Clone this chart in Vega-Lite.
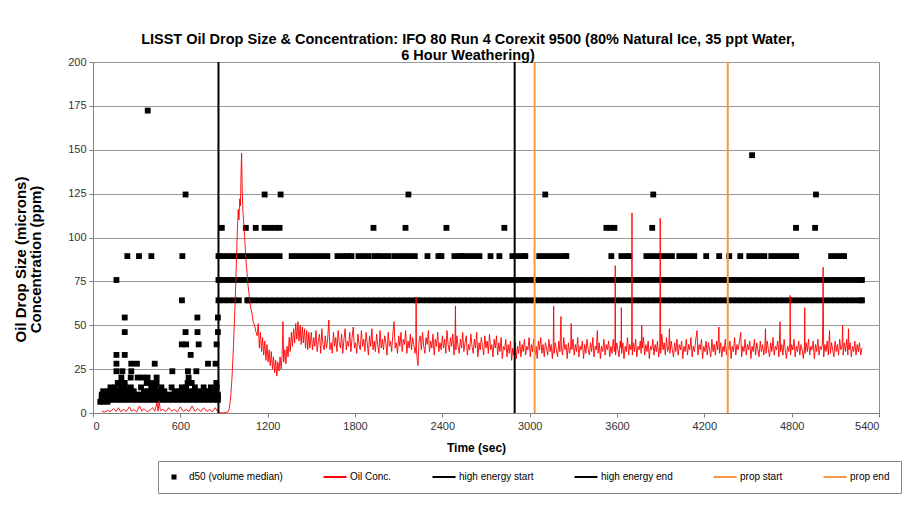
{
  "$schema": "https://vega.github.io/schema/vega-lite/v6.json",
  "width": 786,
  "height": 351,
  "autosize": "none",
  "padding": {"left": 93, "top": 62, "right": 25, "bottom": 98},
  "background": "white",
  "title": {
    "text": ["LISST  Oil Drop Size & Concentration: IFO 80 Run 4 Corexit 9500 (80% Natural Ice, 35 ppt Water,", "6 Hour Weathering)"],
    "font": "Liberation Sans", "fontSize": 14.5, "fontWeight": "bold", "color": "#000000",
    "anchor": "middle", "dx": -18, "offset": -7, "lineHeight": 16
  },
  "config": {
    "view": {"stroke": "#8c8c8c", "strokeWidth": 1},
    "axis": {
      "labelFont": "Liberation Sans", "labelFontSize": 11, "labelColor": "#333333",
      "titleFont": "Liberation Sans", "titleFontSize": 12, "titleFontWeight": "bold", "titleColor": "#000000",
      "domainColor": "#808080", "tickColor": "#808080", "tickSize": 4
    },
    "legend": {
      "orient": "none",
      "legendX": 65,
      "legendY": 399,
      "direction": "horizontal",
      "columns": 6,
      "symbolType": {"expr": "datum.value === 'd50 (volume median)' ? 'M-0.22,-0.22H0.22V0.22H-0.22Z' : 'stroke'"},
      "symbolSize": 529,
      "symbolStrokeColor": {"expr": "datum.value === 'Oil Conc.' ? '#ff9a9a' : (datum.value === 'prop start' || datum.value === 'prop end') ? '#f79646' : '#000000'"},
      "symbolFillColor": {"expr": "datum.value === 'Oil Conc.' ? '#ff9a9a' : (datum.value === 'prop start' || datum.value === 'prop end') ? '#f79646' : '#000000'"},
      "symbolStrokeWidth": {"expr": "datum.value === 'd50 (volume median)' ? 0 : 2"},
      "symbolOpacity": 1,
      "labelFont": "Liberation Sans",
      "labelFontSize": 10,
      "labelColor": "#000000",
      "labelOffset": 10,
      "columnPadding": 36,
      "padding": 11,
      "strokeColor": "#888888",
      "fillColor": "#ffffff"
    }
  },
  "datasets": {
    "ev": [
      {"t": 862, "s": "high energy start"},
      {"t": 2897, "s": "high energy end"},
      {"t": 3034, "s": "prop start"},
      {"t": 4361, "s": "prop end"}
    ],
    "pts": [
      {"t":50,"d":6.4},{"t":70,"d":6.4},{"t":100,"d":6.4},
      {"t":60,"d":7.5},{"t":95,"d":7.5},{"t":130,"d":7.5},{"t":165,"d":7.5},{"t":200,"d":7.5},{"t":235,"d":7.5},{"t":270,"d":7.5},{"t":305,"d":7.5},{"t":340,"d":7.5},{"t":375,"d":7.5},{"t":410,"d":7.5},{"t":445,"d":7.5},{"t":480,"d":7.5},{"t":515,"d":7.5},{"t":550,"d":7.5},{"t":585,"d":7.5},{"t":620,"d":7.5},{"t":655,"d":7.5},{"t":690,"d":7.5},{"t":725,"d":7.5},{"t":760,"d":7.5},{"t":795,"d":7.5},{"t":830,"d":7.5},{"t":858,"d":7.5},
      {"t":60,"d":8.9},{"t":95,"d":8.9},{"t":130,"d":8.9},{"t":165,"d":8.9},{"t":200,"d":8.9},{"t":235,"d":8.9},{"t":270,"d":8.9},{"t":305,"d":8.9},{"t":340,"d":8.9},{"t":375,"d":8.9},{"t":410,"d":8.9},{"t":445,"d":8.9},{"t":480,"d":8.9},{"t":515,"d":8.9},{"t":550,"d":8.9},{"t":585,"d":8.9},{"t":620,"d":8.9},{"t":655,"d":8.9},{"t":690,"d":8.9},{"t":725,"d":8.9},{"t":760,"d":8.9},{"t":795,"d":8.9},{"t":830,"d":8.9},{"t":858,"d":8.9},
      {"t":60,"d":10.5},{"t":95,"d":10.5},{"t":130,"d":10.5},{"t":165,"d":10.5},{"t":200,"d":10.5},{"t":235,"d":10.5},{"t":270,"d":10.5},{"t":305,"d":10.5},{"t":340,"d":10.5},{"t":375,"d":10.5},{"t":410,"d":10.5},{"t":445,"d":10.5},{"t":480,"d":10.5},{"t":515,"d":10.5},{"t":550,"d":10.5},{"t":585,"d":10.5},{"t":620,"d":10.5},{"t":655,"d":10.5},{"t":690,"d":10.5},{"t":725,"d":10.5},{"t":760,"d":10.5},{"t":795,"d":10.5},{"t":830,"d":10.5},{"t":858,"d":10.5},
      {"t":70,"d":12.4},{"t":105,"d":12.4},{"t":140,"d":12.4},{"t":175,"d":12.4},{"t":210,"d":12.4},{"t":245,"d":12.4},{"t":280,"d":12.4},{"t":350,"d":12.4},{"t":385,"d":12.4},{"t":420,"d":12.4},{"t":455,"d":12.4},{"t":490,"d":12.4},{"t":560,"d":12.4},{"t":595,"d":12.4},{"t":630,"d":12.4},{"t":665,"d":12.4},{"t":700,"d":12.4},{"t":735,"d":12.4},{"t":770,"d":12.4},{"t":805,"d":12.4},{"t":845,"d":12.4},
      {"t":120,"d":14.6},{"t":150,"d":14.6},{"t":190,"d":14.6},{"t":220,"d":14.6},{"t":260,"d":14.6},{"t":330,"d":14.6},{"t":400,"d":14.6},{"t":430,"d":14.6},{"t":470,"d":14.6},{"t":540,"d":14.6},{"t":610,"d":14.6},{"t":640,"d":14.6},{"t":700,"d":14.6},{"t":760,"d":14.6},{"t":810,"d":14.6},{"t":850,"d":14.6},
      {"t":170,"d":17.1},{"t":200,"d":17.1},{"t":218,"d":17.1},{"t":369,"d":17.1},{"t":400,"d":17.1},{"t":437,"d":17.1},{"t":650,"d":17.1},{"t":678,"d":17.1},{"t":847,"d":17.1},
      {"t":195,"d":20.2},{"t":259,"d":20.2},{"t":307,"d":20.2},{"t":340,"d":20.2},{"t":375,"d":20.2},{"t":437,"d":20.2},{"t":657,"d":20.2},
      {"t":161,"d":23.8},{"t":202,"d":23.8},{"t":263,"d":23.8},{"t":545,"d":23.8},{"t":652,"d":23.8},{"t":710,"d":23.8},
      {"t":161,"d":28.1},{"t":263,"d":28.1},{"t":302,"d":28.1},{"t":424,"d":28.1},{"t":790,"d":28.1},{"t":842,"d":28.1},
      {"t":161,"d":33.1},{"t":218,"d":33.1},{"t":671,"d":33.1},
      {"t":610,"d":39.1},{"t":640,"d":39.1},{"t":726,"d":39.1},{"t":849,"d":39.1},
      {"t":218,"d":46.1},{"t":636,"d":46.1},{"t":718,"d":46.1},{"t":858,"d":46.1},
      {"t":218,"d":54.4},{"t":717,"d":54.4},{"t":858,"d":54.4},
      {"t":611,"d":64.2},{"t":161,"d":75.8},
      {"t":236,"d":89.4},{"t":316,"d":89.4},{"t":401,"d":89.4},{"t":614,"d":89.4},
      {"t":636,"d":124.5},{"t":376,"d":172.3},
      {"t":862,"d":64.2},{"t":897,"d":64.2},{"t":932,"d":64.2},{"t":967,"d":64.2},{"t":1002,"d":64.2},{"t":1060,"d":64.2},{"t":1072,"d":64.2},{"t":1107,"d":64.2},{"t":1142,"d":64.2},{"t":1177,"d":64.2},{"t":1212,"d":64.2},{"t":1247,"d":64.2},{"t":1282,"d":64.2},{"t":1317,"d":64.2},{"t":1352,"d":64.2},{"t":1387,"d":64.2},{"t":1422,"d":64.2},{"t":1457,"d":64.2},{"t":1492,"d":64.2},{"t":1527,"d":64.2},{"t":1562,"d":64.2},{"t":1597,"d":64.2},{"t":1632,"d":64.2},{"t":1667,"d":64.2},{"t":1702,"d":64.2},{"t":1737,"d":64.2},{"t":1772,"d":64.2},{"t":1807,"d":64.2},{"t":1842,"d":64.2},{"t":1877,"d":64.2},{"t":1912,"d":64.2},{"t":1947,"d":64.2},{"t":1982,"d":64.2},{"t":2017,"d":64.2},{"t":2052,"d":64.2},{"t":2087,"d":64.2},{"t":2122,"d":64.2},{"t":2157,"d":64.2},{"t":2192,"d":64.2},{"t":2227,"d":64.2},{"t":2262,"d":64.2},{"t":2297,"d":64.2},{"t":2332,"d":64.2},{"t":2367,"d":64.2},{"t":2402,"d":64.2},{"t":2437,"d":64.2},{"t":2472,"d":64.2},{"t":2507,"d":64.2},{"t":2542,"d":64.2},{"t":2577,"d":64.2},{"t":2612,"d":64.2},{"t":2647,"d":64.2},{"t":2682,"d":64.2},{"t":2717,"d":64.2},{"t":2752,"d":64.2},{"t":2787,"d":64.2},{"t":2822,"d":64.2},{"t":2857,"d":64.2},{"t":2892,"d":64.2},{"t":2927,"d":64.2},{"t":2962,"d":64.2},{"t":2997,"d":64.2},{"t":3032,"d":64.2},{"t":3067,"d":64.2},{"t":3102,"d":64.2},{"t":3137,"d":64.2},{"t":3172,"d":64.2},{"t":3207,"d":64.2},{"t":3242,"d":64.2},{"t":3277,"d":64.2},{"t":3312,"d":64.2},{"t":3347,"d":64.2},{"t":3382,"d":64.2},{"t":3417,"d":64.2},{"t":3452,"d":64.2},{"t":3487,"d":64.2},{"t":3522,"d":64.2},{"t":3557,"d":64.2},{"t":3592,"d":64.2},{"t":3627,"d":64.2},{"t":3662,"d":64.2},{"t":3697,"d":64.2},{"t":3732,"d":64.2},{"t":3767,"d":64.2},{"t":3802,"d":64.2},{"t":3837,"d":64.2},{"t":3872,"d":64.2},{"t":3907,"d":64.2},{"t":3942,"d":64.2},{"t":3977,"d":64.2},{"t":4012,"d":64.2},{"t":4047,"d":64.2},{"t":4082,"d":64.2},{"t":4117,"d":64.2},{"t":4152,"d":64.2},{"t":4187,"d":64.2},{"t":4222,"d":64.2},{"t":4257,"d":64.2},{"t":4292,"d":64.2},{"t":4327,"d":64.2},{"t":4362,"d":64.2},{"t":4397,"d":64.2},{"t":4432,"d":64.2},{"t":4467,"d":64.2},{"t":4502,"d":64.2},{"t":4537,"d":64.2},{"t":4572,"d":64.2},{"t":4607,"d":64.2},{"t":4642,"d":64.2},{"t":4677,"d":64.2},{"t":4712,"d":64.2},{"t":4747,"d":64.2},{"t":4782,"d":64.2},{"t":4817,"d":64.2},{"t":4852,"d":64.2},{"t":4887,"d":64.2},{"t":4922,"d":64.2},{"t":4957,"d":64.2},{"t":4992,"d":64.2},{"t":5027,"d":64.2},{"t":5062,"d":64.2},{"t":5097,"d":64.2},{"t":5132,"d":64.2},{"t":5167,"d":64.2},{"t":5202,"d":64.2},{"t":5237,"d":64.2},{"t":5272,"d":64.2},{"t":5283,"d":64.2},
      {"t":862,"d":75.8},{"t":897,"d":75.8},{"t":932,"d":75.8},{"t":967,"d":75.8},{"t":1002,"d":75.8},{"t":1037,"d":75.8},{"t":1072,"d":75.8},{"t":1107,"d":75.8},{"t":1142,"d":75.8},{"t":1177,"d":75.8},{"t":1212,"d":75.8},{"t":1247,"d":75.8},{"t":1282,"d":75.8},{"t":1317,"d":75.8},{"t":1352,"d":75.8},{"t":1387,"d":75.8},{"t":1422,"d":75.8},{"t":1457,"d":75.8},{"t":1492,"d":75.8},{"t":1527,"d":75.8},{"t":1562,"d":75.8},{"t":1597,"d":75.8},{"t":1632,"d":75.8},{"t":1667,"d":75.8},{"t":1702,"d":75.8},{"t":1737,"d":75.8},{"t":1772,"d":75.8},{"t":1807,"d":75.8},{"t":1842,"d":75.8},{"t":1877,"d":75.8},{"t":1912,"d":75.8},{"t":1947,"d":75.8},{"t":1982,"d":75.8},{"t":2017,"d":75.8},{"t":2052,"d":75.8},{"t":2087,"d":75.8},{"t":2122,"d":75.8},{"t":2157,"d":75.8},{"t":2192,"d":75.8},{"t":2227,"d":75.8},{"t":2262,"d":75.8},{"t":2297,"d":75.8},{"t":2332,"d":75.8},{"t":2367,"d":75.8},{"t":2402,"d":75.8},{"t":2437,"d":75.8},{"t":2472,"d":75.8},{"t":2507,"d":75.8},{"t":2542,"d":75.8},{"t":2577,"d":75.8},{"t":2612,"d":75.8},{"t":2647,"d":75.8},{"t":2682,"d":75.8},{"t":2717,"d":75.8},{"t":2752,"d":75.8},{"t":2787,"d":75.8},{"t":2822,"d":75.8},{"t":2857,"d":75.8},{"t":2892,"d":75.8},{"t":2927,"d":75.8},{"t":2962,"d":75.8},{"t":2997,"d":75.8},{"t":3032,"d":75.8},{"t":3067,"d":75.8},{"t":3102,"d":75.8},{"t":3137,"d":75.8},{"t":3172,"d":75.8},{"t":3207,"d":75.8},{"t":3242,"d":75.8},{"t":3277,"d":75.8},{"t":3312,"d":75.8},{"t":3347,"d":75.8},{"t":3382,"d":75.8},{"t":3417,"d":75.8},{"t":3452,"d":75.8},{"t":3487,"d":75.8},{"t":3522,"d":75.8},{"t":3557,"d":75.8},{"t":3592,"d":75.8},{"t":3627,"d":75.8},{"t":3662,"d":75.8},{"t":3697,"d":75.8},{"t":3732,"d":75.8},{"t":3767,"d":75.8},{"t":3802,"d":75.8},{"t":3837,"d":75.8},{"t":3872,"d":75.8},{"t":3907,"d":75.8},{"t":3942,"d":75.8},{"t":3977,"d":75.8},{"t":4012,"d":75.8},{"t":4047,"d":75.8},{"t":4082,"d":75.8},{"t":4117,"d":75.8},{"t":4152,"d":75.8},{"t":4187,"d":75.8},{"t":4222,"d":75.8},{"t":4257,"d":75.8},{"t":4292,"d":75.8},{"t":4327,"d":75.8},{"t":4362,"d":75.8},{"t":4397,"d":75.8},{"t":4432,"d":75.8},{"t":4467,"d":75.8},{"t":4502,"d":75.8},{"t":4537,"d":75.8},{"t":4572,"d":75.8},{"t":4607,"d":75.8},{"t":4642,"d":75.8},{"t":4677,"d":75.8},{"t":4712,"d":75.8},{"t":4747,"d":75.8},{"t":4782,"d":75.8},{"t":4817,"d":75.8},{"t":4852,"d":75.8},{"t":4887,"d":75.8},{"t":4922,"d":75.8},{"t":4957,"d":75.8},{"t":4992,"d":75.8},{"t":5027,"d":75.8},{"t":5062,"d":75.8},{"t":5097,"d":75.8},{"t":5132,"d":75.8},{"t":5167,"d":75.8},{"t":5202,"d":75.8},{"t":5237,"d":75.8},{"t":5272,"d":75.8},{"t":5283,"d":75.8},
      {"t":862,"d":89.4},{"t":897,"d":89.4},{"t":932,"d":89.4},{"t":967,"d":89.4},{"t":1002,"d":89.4},{"t":1037,"d":89.4},{"t":1072,"d":89.4},{"t":1107,"d":89.4},{"t":1142,"d":89.4},{"t":1177,"d":89.4},{"t":1212,"d":89.4},{"t":1247,"d":89.4},{"t":1282,"d":89.4},
      {"t":1365,"d":89.4},{"t":1400,"d":89.4},{"t":1435,"d":89.4},{"t":1470,"d":89.4},{"t":1505,"d":89.4},{"t":1540,"d":89.4},{"t":1575,"d":89.4},{"t":1610,"d":89.4},
      {"t":1680,"d":89.4},{"t":1715,"d":89.4},{"t":1750,"d":89.4},{"t":1776,"d":89.4},
      {"t":1824,"d":89.4},{"t":1859,"d":89.4},{"t":1894,"d":89.4},{"t":1935,"d":89.4},
      {"t":1961,"d":89.4},{"t":1996,"d":89.4},{"t":2031,"d":89.4},{"t":2072,"d":89.4},
      {"t":2106,"d":89.4},{"t":2141,"d":89.4},{"t":2176,"d":89.4},{"t":2211,"d":89.4},
      {"t":2298,"d":89.4},{"t":2373,"d":89.4},{"t":2394,"d":89.4},
      {"t":2483,"d":89.4},{"t":2518,"d":89.4},{"t":2531,"d":89.4},
      {"t":2552,"d":89.4},{"t":2587,"d":89.4},{"t":2622,"d":89.4},{"t":2655,"d":89.4},
      {"t":2731,"d":89.4},{"t":2792,"d":89.4},
      {"t":2881,"d":89.4},{"t":2916,"d":89.4},{"t":2951,"d":89.4},{"t":2970,"d":89.4},
      {"t":3066,"d":89.4},{"t":3101,"d":89.4},{"t":3136,"d":89.4},{"t":3171,"d":89.4},
      {"t":3204,"d":89.4},{"t":3239,"d":89.4},{"t":3252,"d":89.4},
      {"t":3561,"d":89.4},
      {"t":3630,"d":89.4},{"t":3665,"d":89.4},{"t":3685,"d":89.4},
      {"t":3802,"d":89.4},{"t":3837,"d":89.4},{"t":3872,"d":89.4},{"t":3907,"d":89.4},{"t":3942,"d":89.4},{"t":3977,"d":89.4},
      {"t":4028,"d":89.4},{"t":4063,"d":89.4},{"t":4098,"d":89.4},{"t":4131,"d":89.4},
      {"t":4213,"d":89.4},{"t":4302,"d":89.4},{"t":4371,"d":89.4},{"t":4447,"d":89.4},
      {"t":4509,"d":89.4},{"t":4544,"d":89.4},{"t":4579,"d":89.4},{"t":4612,"d":89.4},
      {"t":4660,"d":89.4},{"t":4695,"d":89.4},{"t":4730,"d":89.4},{"t":4765,"d":89.4},{"t":4800,"d":89.4},{"t":4831,"d":89.4},
      {"t":5071,"d":89.4},{"t":5106,"d":89.4},{"t":5141,"d":89.4},{"t":5160,"d":89.4},
      {"t":885,"d":105.5},{"t":1050,"d":105.5},{"t":1118,"d":105.5},{"t":1179,"d":105.5},{"t":1213,"d":105.5},{"t":1248,"d":105.5},{"t":1282,"d":105.5},{"t":1927,"d":105.5},{"t":2147,"d":105.5},{"t":2428,"d":105.5},{"t":2826,"d":105.5},{"t":3527,"d":105.5},{"t":3555,"d":105.5},{"t":3582,"d":105.5},{"t":3842,"d":105.5},{"t":4830,"d":105.5},{"t":4961,"d":105.5},
      {"t":1179,"d":124.5},{"t":1289,"d":124.5},{"t":2167,"d":124.5},{"t":3107,"d":124.5},{"t":3849,"d":124.5},{"t":4967,"d":124.5},
      {"t":4528,"d":146.9}
    ],
    "oil": [
      {"t":60,"c":1},{"t":80,"c":0.5},{"t":100,"c":1.5},{"t":120,"c":0.8},{"t":140,"c":2.5},{"t":160,"c":1},{"t":175,"c":3},{"t":190,"c":0.8},{"t":210,"c":2},{"t":230,"c":1},{"t":250,"c":3.5},{"t":265,"c":1},{"t":280,"c":2},{"t":300,"c":0.6},{"t":320,"c":4},{"t":335,"c":1},{"t":350,"c":2.5},{"t":370,"c":0.8},{"t":390,"c":1.5},{"t":410,"c":3},{"t":425,"c":1},{"t":440,"c":6},{"t":447,"c":1},{"t":455,"c":7},{"t":462,"c":1.5},{"t":480,"c":2},{"t":500,"c":0.8},{"t":520,"c":3},{"t":540,"c":1},{"t":560,"c":2},{"t":580,"c":0.6},{"t":600,"c":3.5},{"t":620,"c":1},{"t":640,"c":2},{"t":660,"c":0.8},{"t":680,"c":4},{"t":700,"c":1},{"t":720,"c":2.5},{"t":740,"c":0.8},{"t":760,"c":3},{"t":780,"c":1},{"t":800,"c":2},{"t":820,"c":0.7},{"t":840,"c":3},{"t":855,"c":1},{"t":870,"c":0.2},{"t":890,"c":0},{"t":910,"c":0.3},{"t":925,"c":0.5},{"t":935,"c":2},{"t":945,"c":8},{"t":955,"c":20},{"t":965,"c":38},{"t":975,"c":60},{"t":985,"c":85},{"t":992,"c":105},{"t":998,"c":116},{"t":1003,"c":110},{"t":1008,"c":122},{"t":1013,"c":118},{"t":1018,"c":140},{"t":1021,"c":148},{"t":1025,"c":128},{"t":1030,"c":115},{"t":1036,"c":108},{"t":1042,"c":100},{"t":1050,"c":88},{"t":1058,"c":80},{"t":1066,"c":72},{"t":1075,"c":66},{"t":1083,"c":60},{"t":1092,"c":57},{"t":1100,"c":52},{"t":1110,"c":50},{"t":1120,"c":46},
      {"t":1128,"c":44},{"t":1135,"c":51},{"t":1143,"c":37},{"t":1150,"c":46},{"t":1158,"c":35},{"t":1165,"c":43},{"t":1173,"c":33},{"t":1180,"c":41},{"t":1188,"c":30},{"t":1195,"c":39},{"t":1203,"c":29},{"t":1210,"c":36},{"t":1218,"c":27},{"t":1225,"c":35},{"t":1233,"c":25},{"t":1240,"c":32},{"t":1248,"c":23},{"t":1255,"c":30},{"t":1263,"c":21},{"t":1270,"c":29},{"t":1278,"c":24},{"t":1285,"c":32},{"t":1293,"c":25},{"t":1300,"c":34},{"t":1305,"c":52},{"t":1310,"c":29},{"t":1318,"c":36},{"t":1325,"c":28},{"t":1333,"c":38},{"t":1340,"c":32},{"t":1348,"c":43},{"t":1355,"c":35},{"t":1363,"c":46},{"t":1370,"c":38},{"t":1378,"c":48},{"t":1385,"c":40},{"t":1393,"c":51},{"t":1400,"c":42},{"t":1408,"c":52},{"t":1415,"c":41},{"t":1423,"c":50},{"t":1430,"c":39},{"t":1438,"c":49},{"t":1445,"c":40},{"t":1453,"c":48},{"t":1460,"c":37},{"t":1468,"c":47},{"t":1475,"c":36},{"t":1483,"c":46},{"t":1490,"c":37},
      {"t":1500,"c":46},{"t":1508,"c":36},{"t":1516,"c":43},{"t":1524,"c":38},{"t":1532,"c":47},{"t":1540,"c":35},{"t":1548,"c":41},{"t":1556,"c":45},{"t":1564,"c":34},{"t":1572,"c":48},{"t":1580,"c":39},{"t":1588,"c":36},{"t":1596,"c":44},{"t":1604,"c":37},{"t":1612,"c":42},{"t":1620,"c":53},{"t":1628,"c":36},{"t":1636,"c":40},{"t":1644,"c":34},{"t":1652,"c":46},{"t":1660,"c":38},{"t":1668,"c":43},{"t":1676,"c":35},{"t":1684,"c":47},{"t":1692,"c":40},{"t":1700,"c":37},{"t":1708,"c":45},{"t":1716,"c":34},{"t":1724,"c":42},{"t":1732,"c":48},{"t":1740,"c":36},{"t":1748,"c":41},{"t":1756,"c":38},{"t":1764,"c":46},{"t":1772,"c":35},{"t":1780,"c":43},{"t":1788,"c":49},{"t":1796,"c":37},{"t":1804,"c":40},{"t":1812,"c":34},{"t":1820,"c":45},{"t":1828,"c":39},{"t":1836,"c":36},{"t":1844,"c":47},{"t":1852,"c":38},{"t":1860,"c":42},{"t":1868,"c":35},{"t":1876,"c":46},{"t":1884,"c":40},{"t":1892,"c":33},{"t":1900,"c":44},{"t":1908,"c":38},{"t":1916,"c":48},{"t":1924,"c":36},{"t":1932,"c":41},{"t":1940,"c":35},{"t":1948,"c":45},{"t":1956,"c":39},{"t":1964,"c":34},{"t":1972,"c":47},{"t":1980,"c":37},{"t":1988,"c":42},{"t":1996,"c":36},{"t":2004,"c":44},{"t":2012,"c":40},{"t":2020,"c":33},{"t":2028,"c":46},{"t":2036,"c":38},{"t":2044,"c":41},{"t":2052,"c":35},{"t":2060,"c":45},{"t":2068,"c":52},{"t":2076,"c":37},{"t":2084,"c":40},{"t":2092,"c":34},{"t":2100,"c":44},{"t":2108,"c":38},{"t":2116,"c":46},{"t":2124,"c":35},{"t":2132,"c":42},{"t":2140,"c":39},{"t":2148,"c":47},{"t":2156,"c":34},{"t":2164,"c":41},{"t":2172,"c":37},{"t":2180,"c":45},{"t":2188,"c":36},{"t":2196,"c":43},{"t":2204,"c":39},{"t":2212,"c":34},{"t":2218,"c":38},{"t":2220,"c":66},{"t":2222,"c":36},{"t":2228,"c":30},{"t":2233,"c":27},{"t":2240,"c":41},{"t":2248,"c":44},{"t":2256,"c":36},{"t":2264,"c":46},{"t":2272,"c":38},{"t":2280,"c":34},{"t":2288,"c":43},{"t":2296,"c":39},{"t":2304,"c":47},{"t":2312,"c":35},{"t":2320,"c":41},{"t":2328,"c":37},{"t":2336,"c":45},{"t":2344,"c":33},{"t":2352,"c":42},{"t":2360,"c":38},{"t":2368,"c":46},{"t":2376,"c":35},{"t":2384,"c":40},{"t":2392,"c":36},
      {"t":2400,"c":44},{"t":2408,"c":37},{"t":2416,"c":42},{"t":2424,"c":34},{"t":2432,"c":47},{"t":2440,"c":39},{"t":2448,"c":35},{"t":2456,"c":43},{"t":2464,"c":38},{"t":2472,"c":45},{"t":2480,"c":33},{"t":2487,"c":41},{"t":2490,"c":61},{"t":2493,"c":36},{"t":2500,"c":44},{"t":2508,"c":38},{"t":2516,"c":34},{"t":2524,"c":42},{"t":2532,"c":37},{"t":2540,"c":46},{"t":2548,"c":35},{"t":2556,"c":40},{"t":2564,"c":44},{"t":2572,"c":33},{"t":2580,"c":39},{"t":2588,"c":36},{"t":2596,"c":45},{"t":2604,"c":38},{"t":2612,"c":34},{"t":2620,"c":42},{"t":2628,"c":37},{"t":2636,"c":46},{"t":2644,"c":32},{"t":2652,"c":40},{"t":2660,"c":36},{"t":2668,"c":43},{"t":2676,"c":38},{"t":2684,"c":33},{"t":2692,"c":44},{"t":2700,"c":37},{"t":2708,"c":41},{"t":2716,"c":34},{"t":2724,"c":45},{"t":2732,"c":36},{"t":2740,"c":39},{"t":2748,"c":32},{"t":2756,"c":42},{"t":2764,"c":37},{"t":2772,"c":44},{"t":2780,"c":33},{"t":2788,"c":40},{"t":2796,"c":35},{"t":2804,"c":43},{"t":2812,"c":31},{"t":2820,"c":38},{"t":2828,"c":36},{"t":2836,"c":42},{"t":2844,"c":32},{"t":2852,"c":39},{"t":2860,"c":34},{"t":2868,"c":41},{"t":2876,"c":30},{"t":2884,"c":37},{"t":2892,"c":33},{"t":2900,"c":40},{"t":2908,"c":31},{"t":2916,"c":38},{"t":2924,"c":34},{"t":2932,"c":41},{"t":2940,"c":32},{"t":2948,"c":39},{"t":2956,"c":35},{"t":2964,"c":42},{"t":2972,"c":33},{"t":2980,"c":38},{"t":2988,"c":36},{"t":2996,"c":43},
      {"t":3004,"c":32},{"t":3012,"c":39},{"t":3020,"c":35},{"t":3028,"c":42},{"t":3036,"c":33},{"t":3044,"c":38},{"t":3052,"c":31},{"t":3060,"c":41},{"t":3068,"c":36},{"t":3076,"c":43},{"t":3084,"c":34},{"t":3092,"c":39},{"t":3100,"c":32},{"t":3108,"c":40},{"t":3116,"c":37},{"t":3124,"c":33},{"t":3132,"c":42},{"t":3140,"c":35},{"t":3148,"c":39},{"t":3156,"c":31},{"t":3162,"c":38},{"t":3165,"c":61},{"t":3168,"c":34},{"t":3176,"c":40},{"t":3184,"c":36},{"t":3192,"c":32},{"t":3200,"c":41},{"t":3208,"c":35},{"t":3215,"c":55},{"t":3218,"c":37},{"t":3226,"c":33},{"t":3234,"c":43},{"t":3242,"c":36},{"t":3250,"c":39},{"t":3258,"c":31},{"t":3266,"c":40},{"t":3274,"c":34},{"t":3282,"c":38},{"t":3285,"c":51},{"t":3290,"c":36},{"t":3298,"c":42},{"t":3306,"c":33},{"t":3314,"c":39},{"t":3322,"c":35},{"t":3330,"c":43},{"t":3338,"c":32},{"t":3346,"c":38},{"t":3354,"c":36},{"t":3362,"c":41},{"t":3370,"c":31},{"t":3378,"c":39},{"t":3386,"c":34},{"t":3394,"c":42},{"t":3402,"c":36},{"t":3410,"c":33},{"t":3418,"c":40},{"t":3426,"c":35},{"t":3434,"c":43},{"t":3442,"c":32},{"t":3450,"c":38},{"t":3458,"c":36},{"t":3465,"c":47},{"t":3470,"c":34},{"t":3478,"c":40},{"t":3486,"c":31},{"t":3494,"c":38},{"t":3502,"c":35},{"t":3510,"c":42},{"t":3518,"c":33},{"t":3526,"c":39},{"t":3534,"c":36},{"t":3542,"c":41},{"t":3550,"c":32},{"t":3558,"c":38},{"t":3566,"c":34},{"t":3574,"c":42},{"t":3582,"c":35},{"t":3586,"c":39},{"t":3588,"c":84},{"t":3590,"c":33},{"t":3598,"c":40},{"t":3606,"c":36},{"t":3614,"c":32},{"t":3622,"c":41},{"t":3628,"c":37},{"t":3630,"c":60},{"t":3632,"c":34},{"t":3640,"c":40},{"t":3648,"c":31},{"t":3656,"c":38},{"t":3664,"c":35},{"t":3672,"c":43},{"t":3680,"c":33},{"t":3688,"c":39},{"t":3696,"c":36},{"t":3701,"c":41},{"t":3703,"c":114},{"t":3705,"c":33},{"t":3712,"c":40},{"t":3720,"c":35},{"t":3728,"c":42},{"t":3736,"c":32},{"t":3744,"c":38},{"t":3752,"c":36},{"t":3760,"c":41},{"t":3766,"c":34},{"t":3770,"c":50},{"t":3774,"c":37},{"t":3782,"c":43},{"t":3790,"c":33},{"t":3798,"c":39},{"t":3806,"c":35},{"t":3814,"c":41},{"t":3822,"c":31},{"t":3830,"c":38},{"t":3838,"c":36},{"t":3846,"c":42},{"t":3854,"c":33},{"t":3862,"c":39},{"t":3870,"c":35},{"t":3878,"c":41},{"t":3886,"c":32},{"t":3894,"c":38},{"t":3897,"c":111},{"t":3900,"c":34},{"t":3908,"c":45},{"t":3916,"c":36},{"t":3924,"c":40},{"t":3932,"c":33},{"t":3940,"c":43},{"t":3948,"c":35},{"t":3956,"c":38},{"t":3960,"c":48},{"t":3964,"c":34},{"t":3972,"c":41},{"t":3980,"c":36},{"t":3988,"c":32},{"t":3996,"c":40},{"t":4004,"c":35},{"t":4012,"c":42},{"t":4020,"c":33},{"t":4028,"c":39},{"t":4036,"c":36},{"t":4044,"c":41},{"t":4052,"c":31},{"t":4060,"c":38},{"t":4068,"c":35},{"t":4076,"c":42},{"t":4084,"c":33},{"t":4092,"c":39},{"t":4100,"c":36},{"t":4108,"c":43},{"t":4116,"c":32},{"t":4124,"c":38},{"t":4132,"c":35},{"t":4140,"c":41},{"t":4150,"c":47},{"t":4156,"c":33},{"t":4164,"c":39},{"t":4172,"c":36},{"t":4180,"c":42},{"t":4188,"c":31},{"t":4196,"c":38},{"t":4204,"c":35},{"t":4212,"c":41},{"t":4220,"c":33},{"t":4228,"c":40},{"t":4236,"c":36},{"t":4244,"c":32},{"t":4252,"c":42},{"t":4260,"c":35},{"t":4268,"c":39},{"t":4276,"c":33},{"t":4284,"c":41},{"t":4292,"c":36},{"t":4300,"c":49},{"t":4304,"c":34},{"t":4312,"c":40},{"t":4320,"c":32},{"t":4328,"c":38},{"t":4336,"c":35},{"t":4344,"c":42},{"t":4352,"c":33},{"t":4360,"c":39},{"t":4368,"c":36},{"t":4376,"c":41},{"t":4384,"c":31},{"t":4392,"c":38},{"t":4400,"c":35},{"t":4408,"c":43},{"t":4416,"c":33},{"t":4424,"c":39},{"t":4432,"c":36},{"t":4440,"c":40},{"t":4450,"c":46},{"t":4456,"c":32},{"t":4464,"c":38},{"t":4472,"c":35},{"t":4480,"c":42},{"t":4488,"c":33},{"t":4496,"c":39},{"t":4504,"c":36},{"t":4512,"c":41},{"t":4520,"c":31},{"t":4528,"c":38},{"t":4536,"c":35},{"t":4544,"c":42},{"t":4552,"c":33},{"t":4560,"c":40},{"t":4568,"c":36},{"t":4576,"c":32},{"t":4584,"c":41},{"t":4592,"c":35},{"t":4600,"c":39},{"t":4608,"c":33},{"t":4616,"c":38},{"t":4620,"c":48},{"t":4624,"c":34},{"t":4632,"c":41},{"t":4640,"c":36},{"t":4648,"c":32},{"t":4656,"c":40},{"t":4664,"c":35},{"t":4672,"c":43},{"t":4680,"c":33},{"t":4688,"c":38},{"t":4696,"c":36},{"t":4704,"c":41},{"t":4712,"c":32},{"t":4720,"c":52},{"t":4724,"c":35},{"t":4732,"c":39},{"t":4740,"c":33},{"t":4748,"c":42},{"t":4756,"c":36},{"t":4764,"c":31},{"t":4772,"c":38},{"t":4780,"c":35},{"t":4788,"c":40},{"t":4790,"c":67},{"t":4792,"c":33},{"t":4800,"c":39},{"t":4808,"c":36},{"t":4816,"c":42},{"t":4824,"c":32},{"t":4832,"c":38},{"t":4840,"c":35},{"t":4848,"c":41},{"t":4856,"c":33},{"t":4864,"c":39},{"t":4872,"c":36},{"t":4880,"c":31},{"t":4888,"c":38},{"t":4890,"c":60},{"t":4892,"c":34},{"t":4900,"c":40},{"t":4908,"c":35},{"t":4916,"c":42},{"t":4924,"c":33},{"t":4932,"c":38},{"t":4940,"c":36},{"t":4948,"c":41},{"t":4956,"c":31},{"t":4964,"c":39},{"t":4972,"c":35},{"t":4980,"c":42},{"t":4988,"c":33},{"t":4996,"c":38},{"t":5004,"c":36},{"t":5012,"c":40},{"t":5016,"c":83},{"t":5020,"c":32},{"t":5028,"c":39},{"t":5036,"c":35},{"t":5044,"c":41},{"t":5052,"c":33},{"t":5060,"c":47},{"t":5066,"c":34},{"t":5074,"c":40},{"t":5082,"c":36},{"t":5090,"c":32},{"t":5098,"c":41},{"t":5106,"c":35},{"t":5114,"c":39},{"t":5122,"c":33},{"t":5130,"c":42},{"t":5138,"c":36},{"t":5146,"c":38},{"t":5150,"c":50},{"t":5154,"c":33},{"t":5162,"c":40},{"t":5170,"c":35},{"t":5178,"c":42},{"t":5186,"c":33},{"t":5190,"c":48},{"t":5194,"c":36},{"t":5202,"c":40},{"t":5210,"c":32},{"t":5218,"c":38},{"t":5226,"c":35},{"t":5234,"c":41},{"t":5242,"c":33},{"t":5250,"c":39},{"t":5258,"c":35},{"t":5266,"c":40},{"t":5274,"c":33},{"t":5283,"c":37}
    ]
  },
  "layer": [
    {
      "data": {"name": "pts"},
      "mark": {"type": "point", "shape": "square", "filled": true, "size": 34, "opacity": 1},
      "encoding": {
        "x": {"field": "t", "type": "quantitative", "scale": {"domain": [0, 5400], "nice": false},
          "axis": {"title": "Time (sec)", "values": [0,600,1200,1800,2400,3000,3600,4200,4800,5400], "format": "d", "grid": false, "labelPadding": 3, "titlePadding": 11, "titleX": 383}},
        "y": {"field": "d", "type": "quantitative", "scale": {"domain": [0, 200], "nice": false},
          "axis": {"title": ["Oil Drop Size (microns)", "Concentration (ppm)"], "titleFontSize": 15, "titleLineHeight": 15, "values": [0,25,50,75,100,125,150,175,200], "grid": true, "gridColor": "#999999", "gridWidth": 1, "labelPadding": 3, "titlePadding": 24, "titleY": 197}},
        "color": {
          "datum": "d50 (volume median)",
          "type": "nominal",
          "title": null,
          "scale": {
            "domain": ["d50 (volume median)", "Oil Conc.", "high energy start", "high energy end", "prop start", "prop end"],
            "range": ["#000000", "#ff0000", "#000000", "#000000", "#f79646", "#f79646"]
          },
          "legend": {"title": null}
        }
      }
    },
    {
      "data": {"name": "oil"},
      "mark": {"type": "line", "strokeWidth": 1, "opacity": 0.9},
      "encoding": {
        "x": {"field": "t", "type": "quantitative"},
        "y": {"field": "c", "type": "quantitative"},
        "color": {"datum": "Oil Conc.", "type": "nominal", "title": null, "legend": {"title": null}}
      }
    },
    {
      "data": {"name": "ev"},
      "mark": {"type": "rule", "strokeWidth": 2},
      "encoding": {
        "x": {"field": "t", "type": "quantitative"},
        "color": {"field": "s", "type": "nominal", "title": null, "legend": {"title": null}}
      }
    }
  ]
}
